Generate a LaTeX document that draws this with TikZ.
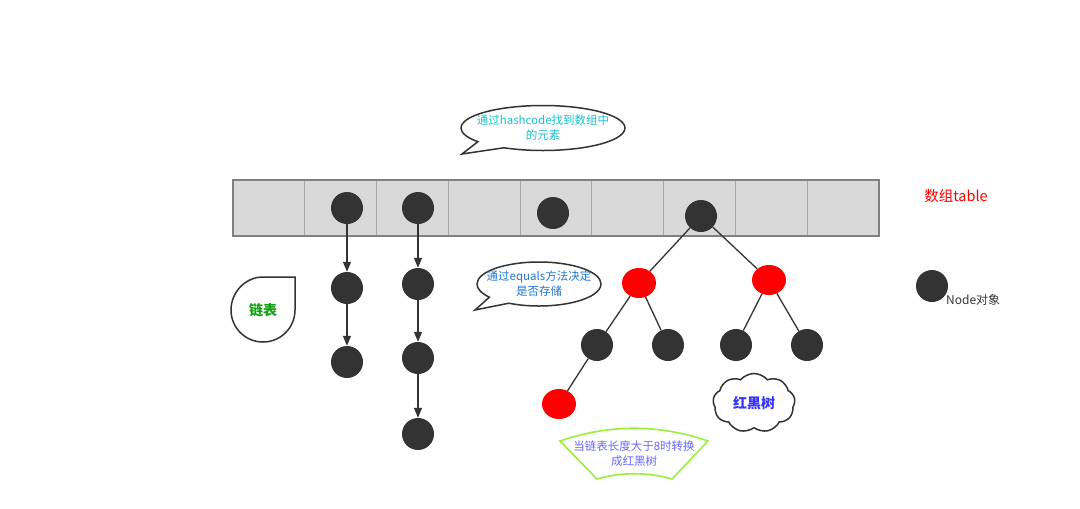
\documentclass[tikz,border=0pt]{standalone}
\usepackage{fontspec}
\newfontfamily\cjk{Noto Sans CJK SC}
\usetikzlibrary{arrows.meta}
\usetikzlibrary{shapes.geometric, shapes.callouts, shapes.symbols}

\definecolor{objgray}{HTML}{333333}
\definecolor{cellfill}{HTML}{D9D9D9}
\definecolor{cellline}{HTML}{A6A6A6}
\definecolor{tipcyan}{HTML}{17C3D0}
\definecolor{tipblue}{HTML}{1E78D8}
\definecolor{treeblue}{HTML}{3333FF}
\definecolor{bannerblue}{HTML}{6666FF}
\definecolor{bannergreen}{HTML}{99F03C}
\definecolor{listgreen}{HTML}{10A010}

\begin{document}
\begin{tikzpicture}[x=1pt, y=-1pt,
  obj/.style={circle, fill=objgray, minimum size=32pt, inner sep=0pt},
  redobj/.style={ellipse, fill=red, minimum width=34pt, minimum height=30pt, inner sep=0pt},
  link/.style={draw=objgray, line width=1.3pt, -{Triangle[length=10pt, width=8pt]}},
  branch/.style={draw=objgray, line width=1.3pt},
  bubble/.style={ellipse callout, draw=objgray, line width=1.5pt, fill=white, inner sep=0pt, callout pointer arc=24},
  tiptext/.style={font=\cjk\fontsize{11.5}{15}\selectfont, align=center}]
\useasboundingbox (0,0) rectangle (1080,509);

% the array
\draw [fill=cellfill, draw=gray, line width=1.5pt] (233,180) rectangle (879,236);
\foreach \i in {1,...,8}
  \draw [cellline, line width=1pt] ({233+\i*71.78},181) -- ({233+\i*71.78},235);
\node [text=red, font=\cjk\fontsize{14.5}{16}\selectfont] (tablelabel) at (956,196) {数组table};

% objects stored in the array
\node [obj] (slotb) at (347,208) {};
\node [obj] (slotc) at (418,208) {};
\node [obj] (slote) at (553,213) {};
\node [obj] (slotg) at (701,216) {};

% linked lists
\node [obj] (lista1) at (347,288) {};
\node [obj] (lista2) at (347,362) {};
\node [obj] (listb1) at (418,284) {};
\node [obj] (listb2) at (418,358) {};
\node [obj] (listb3) at (418,434) {};
\draw [link] (slotb) -- (lista1);
\draw [link] (lista1) -- (lista2);
\draw [link] (slotc) -- (listb1);
\draw [link] (listb1) -- (listb2);
\draw [link] (listb2) -- (listb3);

% red-black tree
\node [redobj] (redl) at (639,283) {};
\node [redobj] (redr) at (769,280) {};
\node [obj] (leafa) at (597,345) {};
\node [obj] (leafb) at (668,345) {};
\node [obj] (leafc) at (736,345) {};
\node [obj] (leafd) at (807,345) {};
\node [redobj] (redd) at (559,404) {};
\draw [branch] (slotg) -- (redl);
\draw [branch] (slotg) -- (redr);
\draw [branch] (redl) -- (leafa);
\draw [branch] (redl) -- (leafb);
\draw [branch] (redr) -- (leafc);
\draw [branch] (redr) -- (leafd);
\draw [branch] (leafa) -- (redd);

% legend
\node [obj] (legendobj) at (932,286) {};
\node [anchor=west, text=objgray, font=\cjk\fontsize{12}{14}\selectfont, inner sep=0pt] (legendtext) at (946,300) {Node对象};

% callouts
\node [bubble, minimum width=164pt, minimum height=45pt, callout absolute pointer={(462,154)}] (hashtip) at (543,128) {};
\node [tiptext, text=tipcyan] (hashtext) at (hashtip.center) {通过hashcode找到数组中\\的元素};

\node [bubble, minimum width=124pt, minimum height=44pt, callout absolute pointer={(475,310)}] (equalstip) at (539,284) {};
\node [tiptext, text=tipblue] (equalstext) at (equalstip.center) {通过equals方法决定\\是否存储};

\draw [objgray, line width=1.5pt]
     (295,277) -- (295,310)
  .. controls (295,327.7) and (280.7,342) .. (263,342)
  .. controls (245.3,342) and (231,327.7) .. (231,310)
  .. controls (231,292.3) and (245.3,277) .. (263,277)
  -- cycle;
\node [text=listgreen, font=\cjk\fontsize{14}{16}\selectfont\bfseries] (listlabel) at (263,310) {链表};

\node [cloud, draw=objgray, line width=1.5pt, cloud puffs=9, cloud puff arc=100, minimum width=82pt, minimum height=59pt, inner sep=0pt] (treecloud) at (754,403) {};
\node [text=treeblue, font=\cjk\fontsize{14}{16}\selectfont\bfseries] (treelabel) at (treecloud.center) {红黑树};

\draw [bannergreen, line width=1.6pt]
     (560,441) .. controls (610,424) and (658,424) .. (708,441)
  -- (672,479) .. controls (648,472) and (621,472) .. (597,479)
  -- cycle;
\node [tiptext, text=bannerblue] (bannertext) at (634,454) {当链表长度大于8时转换\\成红黑树};
\end{tikzpicture}
\end{document}
